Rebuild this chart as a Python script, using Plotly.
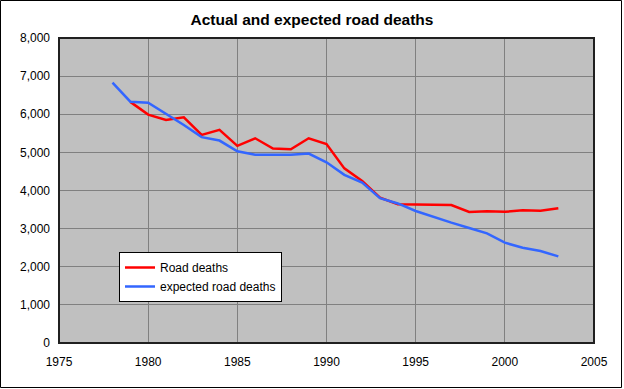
import plotly.graph_objects as go

# Data
years_actual = list(range(1979, 2004))
road_deaths = [6325, 5990, 5850, 5920, 5457, 5590, 5170, 5370, 5100, 5080,
               5370, 5220, 4580, 4250, 3815, 3640, 3630, 3620, 3620, 3437,
               3455, 3440, 3480, 3470, 3535]

years_expected = list(range(1978, 2004))
expected_deaths = [6830, 6330, 6300, 6010, 5720, 5400, 5310, 5030, 4940, 4940,
                   4940, 4970, 4740, 4410, 4210, 3800, 3660, 3463, 3305, 3157,
                   3017, 2876, 2631, 2500, 2411, 2271]

x_ticks = [1975, 1980, 1985, 1990, 1995, 2000, 2005]
y_ticks = [0, 1000, 2000, 3000, 4000, 5000, 6000, 7000, 8000]

W, H = 624, 389
ML, MR, MT, MB = 59, 30, 38, 46
PW, PH = W - ML - MR, H - MT - MB
BOTTOM = MT + PH

FONT = "Liberation Sans, Arial, sans-serif"

fig = go.Figure()
fig.add_trace(go.Scatter(x=years_actual, y=road_deaths, mode="lines",
                         name="Road deaths",
                         line=dict(color="#FF0000", width=2.5)))
fig.add_trace(go.Scatter(x=years_expected, y=expected_deaths, mode="lines",
                         name="expected road deaths",
                         line=dict(color="#3366FF", width=2.5)))

# plot area border
fig.add_shape(type="rect", xref="paper", yref="paper", x0=0, x1=1, y0=0, y1=1,
              line=dict(color="#202020", width=2), layer="above")
# outer chart border
fig.add_shape(type="rect", xref="paper", yref="paper",
              x0=(0.5 - ML) / PW, x1=(621.5 - ML) / PW,
              y0=(BOTTOM - 387.5) / PH, y1=(BOTTOM - 0.5) / PH,
              line=dict(color="#000000", width=1), layer="above")

fig.update_layout(
    width=W, height=H,
    margin=dict(l=ML, r=MR, t=MT, b=MB, pad=0),
    paper_bgcolor="#FFFFFF",
    plot_bgcolor="#C0C0C0",
    font=dict(family=FONT, size=12, color="#000000"),
    title=dict(text="<b>Actual and expected road deaths</b>",
               x=0.5, xref="container", xanchor="center",
               y=1 - 20 / H, yref="container", yanchor="middle",
               font=dict(family=FONT, size=15.5, color="#000000")),
    showlegend=True,
    legend=dict(x=(119 - ML) / PW, y=(BOTTOM - 252) / PH,
                xanchor="left", yanchor="top",
                bgcolor="#FFFFFF", bordercolor="#000000", borderwidth=1,
                font=dict(family=FONT, size=12, color="#000000"),
                tracegroupgap=0, itemwidth=30),
    xaxis=dict(range=[1975, 2005], tickvals=x_ticks,
               ticktext=[str(v) for v in x_ticks],
               showgrid=True, gridcolor="#808080", gridwidth=1,
               zeroline=False, showline=False, ticks="",
               ticklabelstandoff=10,
               tickfont=dict(family=FONT, size=12)),
    yaxis=dict(range=[0, 8000], tickvals=y_ticks,
               ticktext=[f"{v:,}" for v in y_ticks],
               showgrid=True, gridcolor="#808080", gridwidth=1,
               zeroline=False, showline=False, ticks="",
               ticklabelstandoff=8,
               tickfont=dict(family=FONT, size=12)),
)

fig.write_html("out.html", config={"displayModeBar": False},
               post_script="document.body.style.margin='0';")
